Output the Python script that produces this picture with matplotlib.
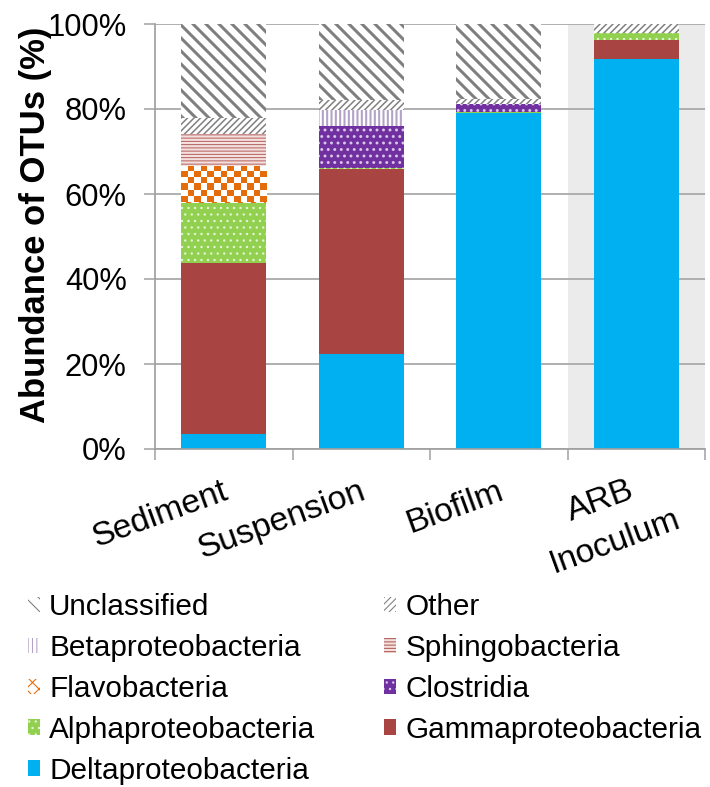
import numpy as np
import matplotlib
matplotlib.use('Agg')
import matplotlib.pyplot as plt
from matplotlib.colors import ListedColormap
from matplotlib.ticker import FuncFormatter

plt.rcParams['font.family'] = ['Liberation Sans', 'DejaVu Sans']

DPI = 78

samples = ['Sediment', 'Suspension', 'Biofilm', 'ARB\nInoculum']

# abundance of OTUs (%) per class, stacked bottom to top
delta = [3.5, 22.3, 79.0, 91.8]
gamma = [40.2, 43.5, 0.0, 4.4]
alpha = [14.3, 0.4, 0.4, 1.8]
clostridia = [0.0, 9.8, 1.7, 0.0]
flavo = [8.6, 0.0, 0.0, 0.0]
sphingo = [7.5, 0.0, 0.0, 0.0]
beta = [0.0, 3.8, 0.0, 0.0]
other = [3.8, 2.3, 1.3, 2.0]
unclassified = [22.1, 17.9, 17.6, 0.0]

# name, values, face, hatch colour, hatch, hatch linewidth
layers = [
    ('Deltaproteobacteria', delta, '#00B0F0', None, None, 1.0),
    ('Gammaproteobacteria', gamma, '#A84441', None, None, 1.0),
    ('Alphaproteobacteria', alpha, '#92D050', '#E4F4D4', '..', 1.0),
    ('Clostridia', clostridia, '#7030A0', '#D9C6EA', '..', 1.5),
    ('Flavobacteria', flavo, 'white', '#E46C0A', 'xx', 2.0),
    ('Sphingobacteria', sphingo, '#F3E0DF', '#B25F5B', '----', 0.9),
    ('Betaproteobacteria', beta, 'white', '#B3A2C7', '|||', 1.9),
    ('Other', other, 'white', '#808080', '////', 1.4),
    ('Unclassified', unclassified, 'white', '#7F7F7F', '\\\\', 2.8),
]

fig = plt.figure(figsize=(710 / DPI, 787 / DPI), dpi=DPI)
ax = fig.add_axes([155 / 710, (787 - 449) / 787, (705 - 155) / 710, (449 - 24) / 787])

x = np.arange(len(samples))
ax.set_xlim(-0.5, 3.5)
ax.set_ylim(0, 100)

ax.axvspan(2.5, 3.5, color='#EBEBEB', lw=0, zorder=0)
ax.set_axisbelow(True)
ax.yaxis.grid(True, color='#A6A6A6', lw=1.6)

bottom = np.zeros(len(samples))
containers = {}
for name, vals, face, hcol, hatch, hlw in layers:
    vals = np.array(vals)
    kw = dict(color=face, lw=0, zorder=2)
    if hatch:
        kw.update(hatch=hatch, edgecolor=hcol)
    bars = ax.bar(x, vals, 0.62, bottom=bottom, label=name, **kw)
    for p in bars:
        if hasattr(p, 'set_hatch_linewidth'):
            p.set_hatch_linewidth(hlw)
    containers[name] = bars
    bottom += vals

# checkerboard fill for Flavobacteria
cell = 6.5
for p in containers['Flavobacteria']:
    if p.get_height() <= 0:
        continue
    x0, y0, w, h = p.get_x(), p.get_y(), p.get_width(), p.get_height()
    (px0, py0), (px1, py1) = ax.transData.transform([(x0, y0), (x0 + w, y0 + h)])
    cols = max(1, int(round((px1 - px0) / cell)))
    rows = max(1, int(round((py1 - py0) / cell)))
    board = (np.add.outer(np.arange(rows), np.arange(cols)) % 2)
    im = ax.imshow(board, cmap=ListedColormap(['white', '#E46C0A']),
                   extent=(x0, x0 + w, y0, y0 + h), origin='upper',
                   aspect='auto', interpolation='nearest', zorder=2.5)
    im.set_clip_path(p)

ax.set_xlim(-0.5, 3.5)
ax.set_ylim(0, 100)

for s in ['top', 'right']:
    ax.spines[s].set_visible(False)
for s in ['left', 'bottom']:
    ax.spines[s].set_color('#A0A0A0')
    ax.spines[s].set_linewidth(1.6)

ax.set_yticks(range(0, 101, 20))
ax.yaxis.set_major_formatter(FuncFormatter(lambda v, _: f'{v:.0f}%'))
ax.tick_params(axis='y', length=10, width=1.4, color='#A0A0A0',
               labelsize=28.5, pad=16)
ax.set_xticks([-0.5, 0.5, 1.5, 2.5, 3.5])
ax.set_xticklabels([])
ax.tick_params(axis='x', length=10, width=1.4, color='#A0A0A0')

ax.set_ylabel('Abundance of OTUs (%)', fontsize=32, fontweight='bold')
ax.yaxis.set_label_coords(-0.187, 0.527)

# rotated sample names under the bars
trans = ax.get_xaxis_transform()
for xi, name in zip(x[:3], samples[:3]):
    ax.text(xi - 0.016, -0.063, name, transform=trans, fontsize=31,
            rotation=20, rotation_mode='anchor', ha='right', va='top')
ax.text(2.794, -0.170, samples[3], transform=trans, fontsize=31,
        rotation=20, rotation_mode='anchor', ha='center', va='center',
        multialignment='center', linespacing=1.5)

order = ['Unclassified', 'Betaproteobacteria', 'Flavobacteria',
         'Alphaproteobacteria', 'Deltaproteobacteria', 'Other',
         'Sphingobacteria', 'Clostridia', 'Gammaproteobacteria']
fig.legend([containers[n] for n in order], order, ncol=2, loc='upper left',
           bbox_to_anchor=(0.039, 0.246), frameon=False, fontsize=27.5,
           handlelength=0.42, handleheight=0.42, handletextpad=0.3,
           columnspacing=2.3, labelspacing=0.43, borderaxespad=0, borderpad=0)

fig.savefig('out.png', dpi=DPI)
